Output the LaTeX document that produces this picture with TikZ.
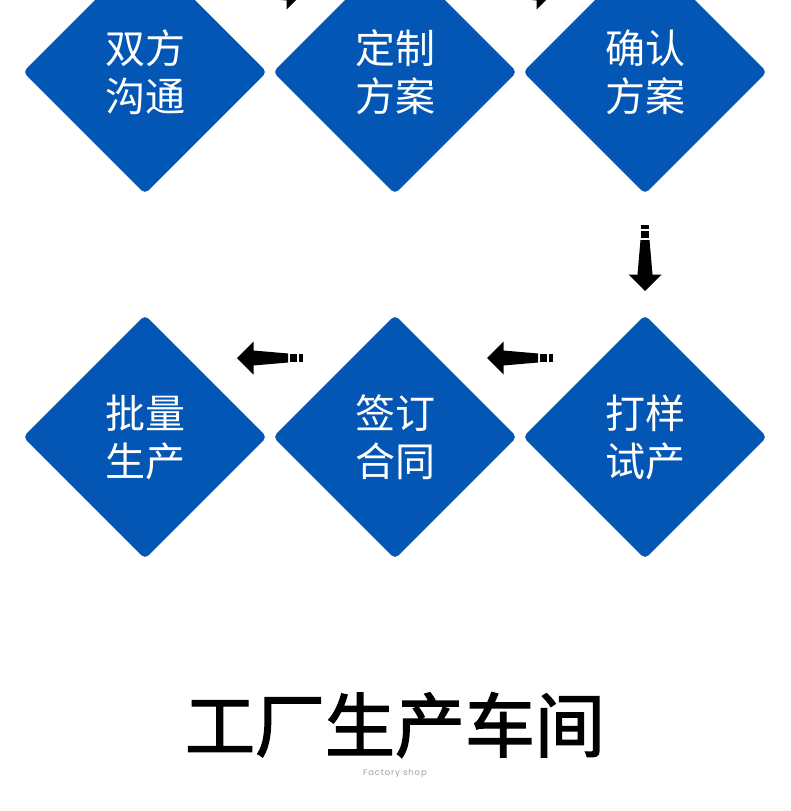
\documentclass[tikz,border=0pt]{standalone}
\usepackage{fontspec}
\usepackage{tikz}
\usetikzlibrary{calc,shapes.geometric}
\usepackage{xcolor}
\newfontfamily\cjk{Noto Sans CJK SC}
\newfontfamily\cjkTitle[FakeBold=2]{Noto Sans CJK SC}
\newfontfamily\latinFont[LetterSpace=10]{Poppins}
\definecolor{stepBlue}{RGB}{4,86,180}
\definecolor{noteGray}{RGB}{160,160,160}
\newcommand{\flowArrow}[2]{%
  \begin{scope}[shift={#1}, rotate=#2]%
    \fill (0, 0) -- (16.5, -16.5) -- (16.5, -7.5) -- (51, -4.5)
      -- (51, 4.5) -- (16.5, 7.5) -- (16.5, 16.5) -- cycle;
    \fill (53, -3.8) rectangle (60, 3.8);
    \fill (62, -3.8) rectangle (66, 3.8);
  \end{scope}%
}

\begin{document}
\begin{tikzpicture}[x=1pt, y=-1pt,
    stepNode/.style={diamond, fill=stepBlue, rounded corners=5pt,
      minimum width=244pt, minimum height=244pt, inner sep=0pt,
      text=white, align=center,
      font=\cjk\fontsize{40pt}{48pt}\selectfont}]
  \useasboundingbox (0, 0) rectangle (790, 811);

  % Steps
  \node[stepNode] (talk) at (145, 72) {双方\\沟通};
  \node[stepNode] (plan) at (395, 72) {定制\\方案};
  \node[stepNode] (confirm) at (645, 72) {确认\\方案};
  \node[stepNode] (sample) at (645, 437) {打样\\试产};
  \node[stepNode] (contract) at (395, 437) {签订\\合同};
  \node[stepNode] (batch) at (145, 437) {批量\\生产};

  % Arrows between the steps
  \flowArrow{($(talk)+(158, -79)$)}{180}
  \flowArrow{($(plan)+(158, -79)$)}{180}
  \flowArrow{($(sample)+(0, -146)$)}{90}
  \flowArrow{($(contract)+(92, -79)$)}{0}
  \flowArrow{($(batch)+(92, -79)$)}{0}

  % Title
  \node[font=\cjkTitle\fontsize{70pt}{70pt}\selectfont]
    (title) at (395, 725) {工厂生产车间};
  \node[font=\latinFont\fontsize{8.5pt}{8.5pt}\selectfont, text=noteGray]
    (subtitle) at (395, 773) {Factory shop};
\end{tikzpicture}
\end{document}
